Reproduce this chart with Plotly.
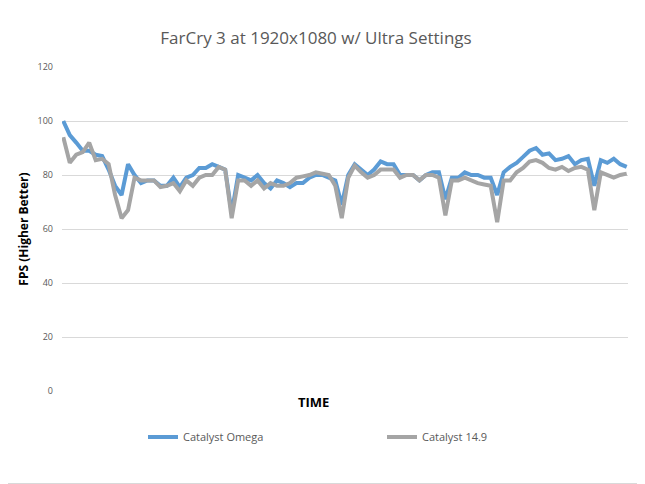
import plotly.graph_objects as go

omega = [100, 94.8, 92, 89, 89, 87.5, 87, 82, 76, 72.6, 84, 80, 77, 78, 78, 76, 76, 79, 75.5, 79,
         80, 82.6, 82.6, 84, 83, 82, 66, 80, 79, 78, 80, 77, 75, 78, 77, 75.5, 77, 77, 79, 80,
         80, 79, 78, 69, 80, 84, 82, 80, 82, 85, 84, 84, 80, 80, 80, 78, 80, 81, 81, 71,
         79, 79, 81, 80, 80, 79, 79, 72.6, 81, 83, 84.5, 86.7, 89, 90, 87.5, 88, 85.5, 86, 87, 84,
         85.5, 86, 76, 85.5, 84.5, 86, 84, 83]
cat149 = [94, 84.5, 87.5, 88.5, 92, 85.5, 86, 84, 72.6, 64, 67, 79, 78, 78, 78, 75.5, 76, 77, 74, 78,
          76, 79, 80, 80, 83, 82, 64, 78, 78, 76, 78, 75, 77, 76, 76, 77, 79, 79.5, 80, 81,
          80.5, 80, 76, 64, 79, 83.5, 81, 79, 80, 82, 82, 82, 79, 80, 80, 78, 80, 80, 79, 65,
          78, 78, 79, 78, 77, 76.5, 76, 62.5, 78, 78, 81, 82.6, 85, 85.5, 84.5, 82.6, 82, 83, 81.5, 82.6,
          83, 82, 67, 81, 80, 79, 80, 80.5]
time_idx = list(range(len(omega)))
y_ticks = [0, 20, 40, 60, 80, 100, 120]

fig = go.Figure()
fig.add_trace(go.Scatter(x=time_idx, y=omega, mode="lines", name="Catalyst Omega",
                         line=dict(color="#5B9BD5", width=4)))
fig.add_trace(go.Scatter(x=time_idx, y=cat149, mode="lines", name="Catalyst 14.9",
                         line=dict(color="#A5A5A5", width=4)))

# page body has an 8px margin, so the figure is sized/positioned to compensate
OFF = 8
W, H = 645 - OFF, 484 - OFF
l, t = 62 - OFF, 67 - OFF
r, b = 17, 93
pw, ph = W - l - r, H - t - b

fig.update_layout(
    width=W, height=H,
    margin=dict(l=l, r=r, t=t, b=b),
    paper_bgcolor="white", plot_bgcolor="white",
    font=dict(family="Open Sans", color="#595959"),
    title=dict(text="FarCry 3 at 1920x1080 w/ Ultra Settings", x=(316 - OFF) / W, xanchor="center",
               y=1 - (38 - OFF) / H, yanchor="middle", font=dict(size=17, color="#595959")),
    xaxis=dict(range=[-0.2, len(omega) - 0.8], showticklabels=False, showgrid=False,
               zeroline=False, showline=False, ticks=""),
    yaxis=dict(range=[0, 120], tickvals=y_ticks, showgrid=True, gridcolor="#D9D9D9",
               zeroline=False, tickfont=dict(size=9, color="#595959"), ticks="",
               ticklabelstandoff=8,
               title=dict(text="<b>FPS (Higher Better)</b>", standoff=6,
                          font=dict(size=12, color="#000000"))),
    showlegend=True,
    legend=dict(orientation="h", x=(143 - 62) / pw, xanchor="left", y=(391 - 437) / ph,
                yanchor="middle", font=dict(size=11, color="#595959"),
                entrywidth=194, entrywidthmode="pixels", bgcolor="rgba(0,0,0,0)"),
    annotations=[dict(text="<b>TIME</b>", xref="paper", yref="paper",
                      x=(313 - 62) / pw, y=(391 - 402) / ph, xanchor="center", yanchor="middle",
                      showarrow=False, font=dict(size=13, color="#000000"))],
    shapes=[
        dict(type="line", xref="paper", yref="paper",
             x0=(W - 0.5 - l) / pw, x1=(W - 0.5 - l) / pw,
             y0=(H - b - (H - 0.5)) / ph, y1=(H - b) / ph,
             line=dict(color="#D9D9D9", width=1)),
        dict(type="line", xref="paper", yref="paper",
             x0=-l / pw, x1=(W - l) / pw,
             y0=(H - b - (H - 0.5)) / ph, y1=(H - b - (H - 0.5)) / ph,
             line=dict(color="#D9D9D9", width=1)),
    ],
)

fig.write_html("out.html")
